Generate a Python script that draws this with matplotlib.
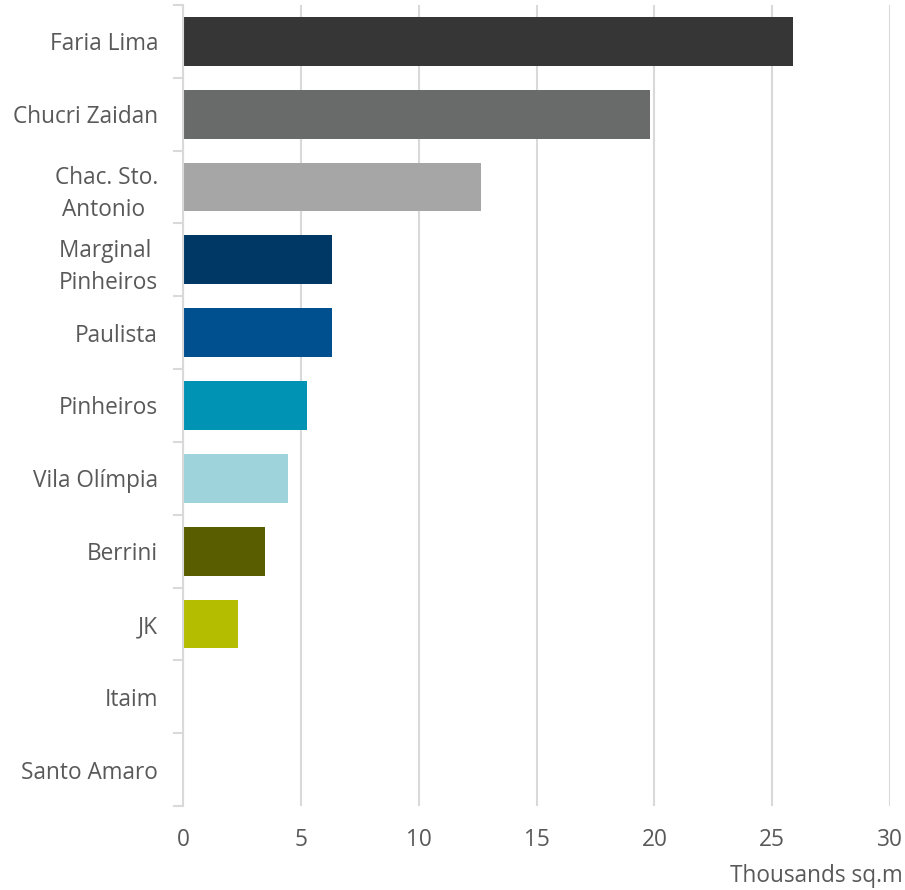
import matplotlib
matplotlib.use("Agg")
import matplotlib.pyplot as plt
from matplotlib.ticker import FixedLocator, NullFormatter

categories = ["Faria Lima", "Chucri Zaidan", "Chac. Sto.\nAntonio ", "Marginal \nPinheiros",
              "Paulista", "Pinheiros", "Vila Olímpia", "Berrini", "JK", "Itaim", "Santo Amaro"]
values = [25.9, 19.8, 12.65, 6.33, 6.33, 5.27, 4.45, 3.48, 2.34, 0.0, 0.0]
colors = ["#363636", "#696B6A", "#A5A6A5", "#003865", "#004F8E", "#0093B4",
          "#9ED3DC", "#5A5C00", "#B5BD00", "#B5BD00", "#B5BD00"]
xticks = [0, 5, 10, 15, 20, 25, 30]
xlabel = "Thousands sq.m"

plt.rcParams['font.family'] = ['Open Sans', 'DejaVu Sans']
txt = "#595959"
grid = "#D9D9D9"
fs = 16.3

fig = plt.figure(figsize=(9.05, 8.9), dpi=100)
ax = fig.add_axes([183/905, 1 - 806/890, (890-183)/905, (806-5)/890])

y = list(range(len(categories)))
ax.barh(y, values, height=0.67, color=colors, zorder=3)
ax.set_ylim(len(categories) - 0.5, -0.5)
ax.set_xlim(0, 30)
ax.set_xticks(xticks)
ax.set_xticklabels([str(v) for v in xticks])
ax.xaxis.grid(True, color=grid, linewidth=1.5, zorder=0)
ax.tick_params(axis='x', length=0, pad=16, labelsize=fs, labelcolor=txt)

ax.set_yticks(y)
ax.set_yticklabels(categories)
ax.tick_params(axis='y', which='major', length=0, pad=18, labelsize=fs, labelcolor=txt)
ax.yaxis.set_minor_locator(FixedLocator([i - 0.5 for i in range(len(categories) + 1)]))
ax.yaxis.set_minor_formatter(NullFormatter())
ax.tick_params(axis='y', which='minor', length=7, width=1.5, color=grid)
for lab in ax.get_yticklabels():
    lab.set_horizontalalignment('right')
    lab.set_multialignment('center')
    lab.set_linespacing(1.45)

for s in ['top', 'right', 'bottom']:
    ax.spines[s].set_visible(False)
ax.spines['left'].set_color(grid)
ax.spines['left'].set_linewidth(1.5)
ax.spines['left'].set_zorder(4)

fig.text(903/905, 1 - 876/890, xlabel, ha='right', va='center', fontsize=fs, color=txt)

fig.savefig("out.png", dpi=100, facecolor="white")
